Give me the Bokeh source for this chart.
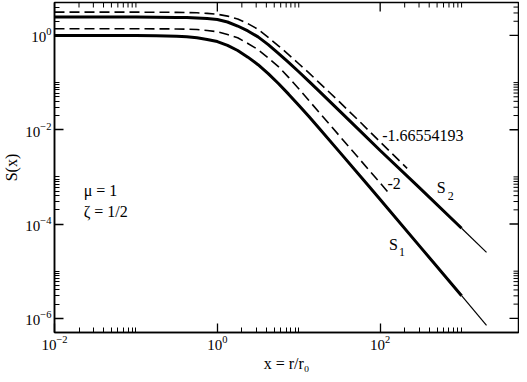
import math
from bokeh.plotting import figure
from bokeh.models import FixedTicker, LogTickFormatter, Label
from bokeh.embed import file_html
from bokeh.resources import INLINE

# ---- data, as decades: log10(x) and log10(S) ----
lx_s1 = [-2.0, -1.0, -0.75, -0.5, -0.375, -0.25, -0.125, 0.0, 0.125, 0.25, 0.375, 0.5, 0.625, 0.75,
         0.875, 1.0, 1.125, 1.25, 1.5, 1.867, 2.0, 2.5, 3.0, 3.306]
ls_s1 = [0.0, -0.003, -0.006, -0.016, -0.03, -0.05, -0.085, -0.13, -0.21, -0.32, -0.46, -0.62, -0.81, -1.02,
         -1.245, -1.48, -1.72, -1.97, -2.47, -3.21, -3.48, -4.50, -5.52, -6.15]

lx_s2 = [-2.0, -1.0, -0.75, -0.5, -0.375, -0.25, -0.125, 0.0, 0.125, 0.25, 0.375, 0.5, 0.625, 0.75,
         0.875, 1.0, 1.125, 1.25, 1.5, 1.75, 2.0, 2.41, 2.5, 3.0, 3.306]
ls_s2 = [0.39, 0.389, 0.387, 0.383, 0.379, 0.372, 0.36, 0.34, 0.285, 0.20, 0.095, -0.03, -0.195, -0.38,
         -0.57, -0.77, -0.975, -1.18, -1.60, -2.02, -2.44, -3.11, -3.26, -4.09, -4.60]

lx_ref2 = [-2.0, -1.0, -0.75, -0.5, -0.375, -0.25, -0.125, 0.0, 0.125, 0.25, 0.375, 0.5, 0.625, 0.75,
           0.875, 1.0, 1.125, 1.25, 1.5, 1.75, 2.09]
ls_ref2 = [0.142, 0.141, 0.14, 0.138, 0.133, 0.125, 0.105, 0.08, 0.02, -0.05, -0.17, -0.30, -0.475, -0.66,
           -0.89, -1.13, -1.38, -1.63, -2.13, -2.63, -3.31]

lx_ref166 = [-2.0, -1.0, -0.75, -0.5, -0.375, -0.25, -0.125, 0.0, 0.125, 0.25, 0.375, 0.5, 0.625, 0.75,
             0.875, 1.0, 1.125, 1.25, 1.5, 1.75, 2.0, 2.331]
ls_ref166 = [0.495, 0.494, 0.493, 0.49, 0.486, 0.48, 0.468, 0.45, 0.41, 0.35, 0.25, 0.13, -0.04, -0.22,
             -0.405, -0.60, -0.795, -1.0, -1.41, -1.83, -2.26, -2.82]

x_major = [1e-2, 1e0, 1e2]
x_minor = [m * 10.0 ** k for k in (-2, 0, 2) for m in range(2, 11)]
y_major = [1e-6, 1e-4, 1e-2, 1e0]
y_minor = [m * 10.0 ** k for k in (-6, -4, -2, 0) for m in range(2, 11)]
X_RANGE = (0.01, 5000.0)
Y_RANGE = (5e-7, 5.0)


def dec(v):
    return [10.0 ** t for t in v]


x_s1, s1 = dec(lx_s1), dec(ls_s1)
x_s2, s2 = dec(lx_s2), dec(ls_s2)
x_ref2, ref2 = dec(lx_ref2), dec(ls_ref2)
x_ref166, ref166 = dec(lx_ref166), dec(ls_ref166)

FONT = "Liberation Serif"
MAJ, MIN = 9, 5

p = figure(width=519, height=374, x_axis_type="log", y_axis_type="log",
           x_range=X_RANGE, y_range=Y_RANGE,
           output_backend="svg", toolbar_location=None,
           min_border_left=0, min_border_right=1, min_border_top=2, min_border_bottom=0)
p.grid.visible = False
p.outline_line_color = "black"
p.outline_line_width = 1.5
p.background_fill_color = "white"
p.border_fill_color = "white"


def style(ax, major, minor):
    ax.ticker = FixedTicker(ticks=major, minor_ticks=minor)
    ax.formatter = LogTickFormatter()
    ax.major_tick_in = MAJ
    ax.major_tick_out = 0
    ax.minor_tick_in = MIN
    ax.minor_tick_out = 0
    ax.axis_line_color = "black"
    ax.axis_line_width = 1.5
    ax.major_tick_line_color = "black"
    ax.major_tick_line_width = 1.3
    ax.minor_tick_line_color = "black"
    ax.minor_tick_line_width = 1.0
    ax.major_label_text_font = FONT
    ax.major_label_text_color = "black"
    ax.major_label_text_font_size = "15px"
    ax.major_label_standoff = 3
    ax.axis_label_text_font = FONT
    ax.axis_label_text_font_style = "normal"
    ax.axis_label_text_color = "black"
    ax.axis_label_text_font_size = "16px"
    ax.axis_label_standoff = 2


style(p.xaxis[0], x_major, x_minor)
style(p.yaxis[0], y_major, y_minor)
p.xaxis[0].axis_label = "x = r/r\u2080"
p.yaxis[0].axis_label = "S(x)"

# mirrored inward ticks on top and right edges (dash markers clipped by the frame)
p.scatter(x_major, [Y_RANGE[1]] * len(x_major), marker="dash", size=2 * MAJ, angle=math.pi / 2,
          line_color="black", line_width=1.3)
p.scatter(x_minor, [Y_RANGE[1]] * len(x_minor), marker="dash", size=2 * MIN, angle=math.pi / 2,
          line_color="black", line_width=1.0)
p.scatter([X_RANGE[1]] * len(y_major), y_major, marker="dash", size=2 * MAJ,
          line_color="black", line_width=1.3)
p.scatter([X_RANGE[1]] * len(y_minor), y_minor, marker="dash", size=2 * MIN,
          line_color="black", line_width=1.0)

# curves (thick bundle, thin ends beyond 10^3)
n1 = lx_s1.index(3.0)
p.line(x_s1[:n1 + 1], s1[:n1 + 1], line_width=3, color="black")
p.line(x_s1[n1:], s1[n1:], line_width=1.2, color="black")
n2 = lx_s2.index(3.0)
p.line(x_s2[:n2 + 1], s2[:n2 + 1], line_width=3, color="black")
p.line(x_s2[n2:], s2[n2:], line_width=1.2, color="black")
p.line(x_ref2, ref2, line_width=1.6, color="black", line_dash="10 5")
p.line(x_ref166, ref166, line_width=1.6, color="black", line_dash="10 5")


def lab(x, y, text, size="16px", xo=0, yo=0):
    p.add_layout(Label(x=x, y=y, text=text, text_font=FONT, text_font_size=size,
                       text_color="black", text_align="left", text_baseline="middle",
                       x_offset=xo, y_offset=yo))


lab(106.0, 7.6e-3, "-1.66554193")
lab(123.0, 7.4e-4, "-2")
lab(495.0, 5.9e-4, "S")
lab(495.0, 5.9e-4, "2", size="12px", xo=11, yo=-8)
lab(128.0, 3.7e-5, "S")
lab(128.0, 3.7e-5, "1", size="12px", xo=10, yo=-8)
lab(0.0228, 5.1e-4, "\u03bc = 1")
lab(0.0228, 1.85e-4, "\u03b6 = 1/2")

open("out.html", "w").write(file_html(p, INLINE))
